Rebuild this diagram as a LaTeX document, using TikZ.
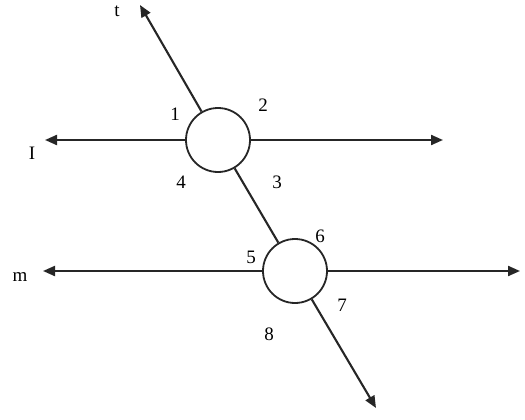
\documentclass[tikz,border=0pt]{standalone}
\usepackage{fontspec}
\setmainfont{Liberation Serif}
\usetikzlibrary{arrows.meta}
\begin{document}
\begin{tikzpicture}[x=1pt,y=-1pt,
  ln/.style={line width=2.1pt,draw=black!85},
  arr/.style={ln,-{Triangle[length=12pt,width=10pt]}},
  ring/.style={circle,draw=black!85,line width=1.8pt,minimum size=64pt,inner sep=0pt},
  lab/.style={font=\fontsize{19}{19}\selectfont,inner sep=0pt}]
\useasboundingbox (0,0) rectangle (525,420);
\node[ring] (c1) at (218,140) {};
\node[ring] (c2) at (295,271) {};
\coordinate (lL) at (45,140);
\coordinate (lR) at (443,140);
\coordinate (mL) at (43,271);
\coordinate (mR) at (520,271);
\coordinate (tT) at (140,5);
\coordinate (tB) at (376,408);
\draw[arr] (c1.west) -- (lL);
\draw[arr] (c1.east) -- (lR);
\draw[arr] (c2.west) -- (mL);
\draw[arr] (c2.east) -- (mR);
\draw[arr] (c1) -- (tT);
\draw[ln] (c1) -- (c2);
\draw[arr] (c2) -- (tB);
\node[lab] (nt) at (117,11) {t};
\node[lab] (nl) at (32,153) {I};
\node[lab] (nm) at (20,277) {m};
\node[lab] (n1) at (175,114) {1};
\node[lab] (n2) at (263,105) {2};
\node[lab] (n3) at (277,182) {3};
\node[lab] (n4) at (181,182) {4};
\node[lab] (n5) at (251,257) {5};
\node[lab] (n6) at (320,236) {6};
\node[lab] (n7) at (342,305) {7};
\node[lab] (n8) at (269,334) {8};
\end{tikzpicture}
\end{document}
